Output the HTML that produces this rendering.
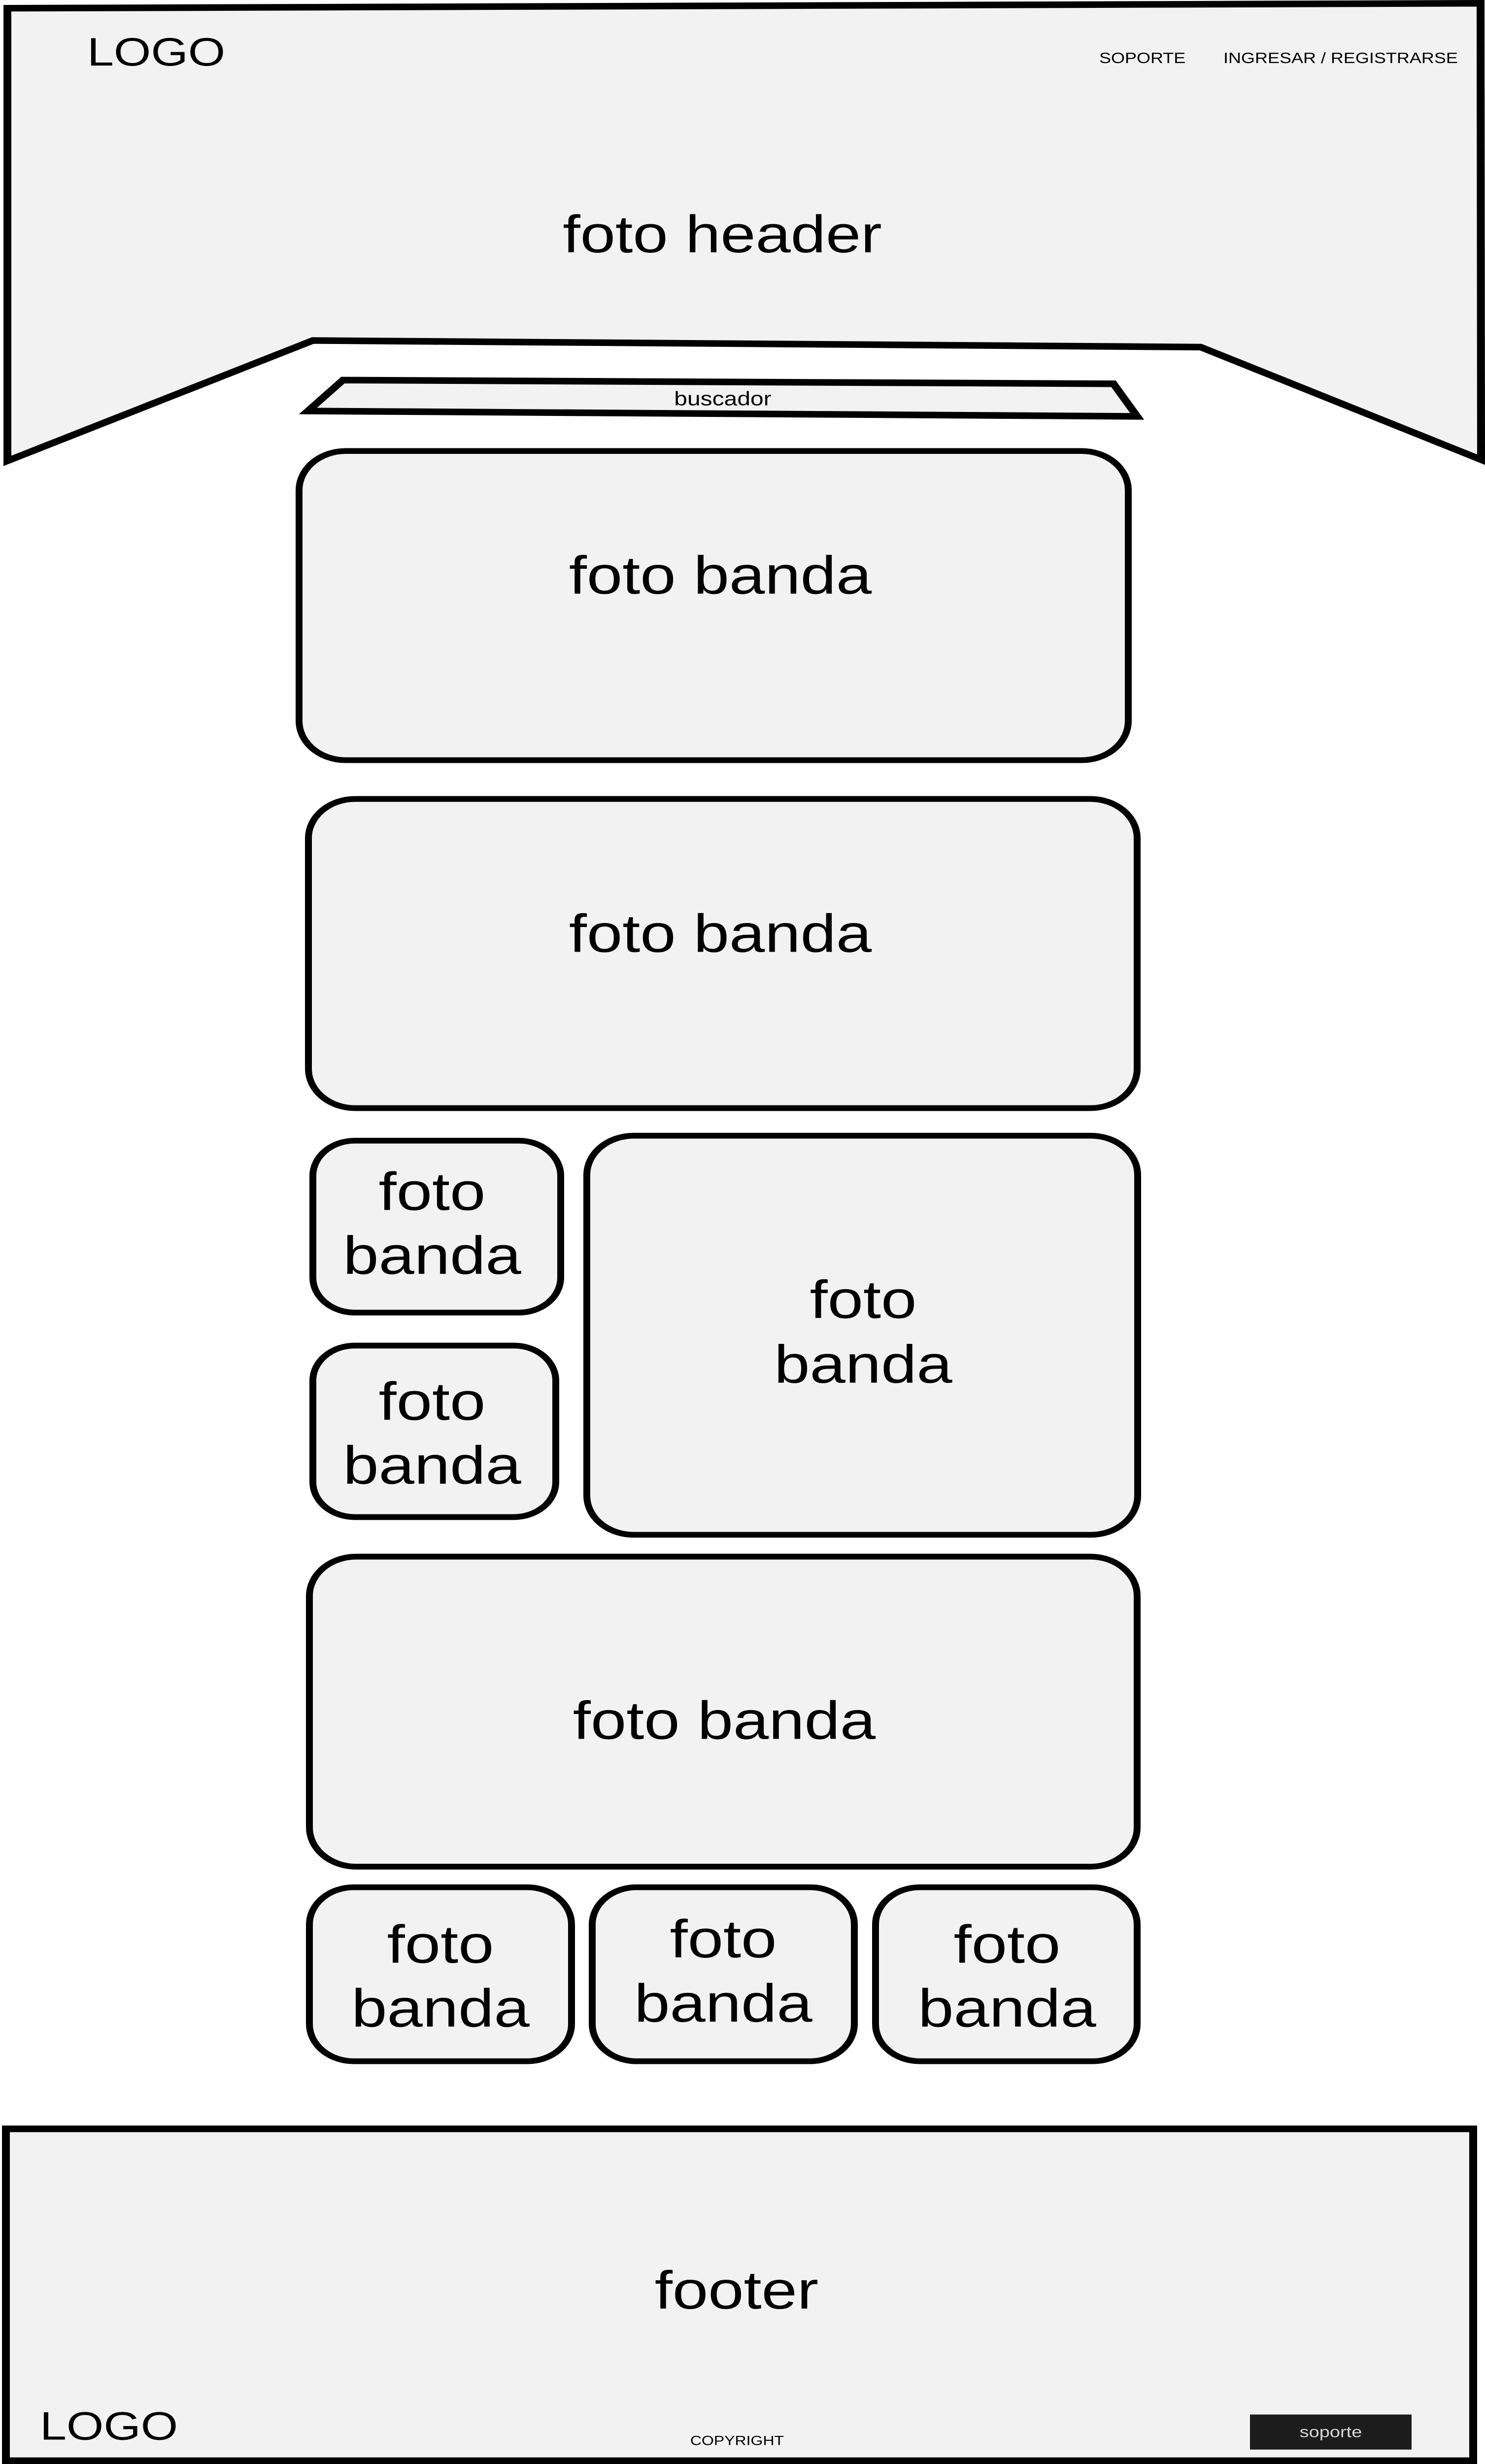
<!DOCTYPE html>
<html><head><meta charset="utf-8"><style>
html,body{margin:0;padding:0;background:#fff;width:100%;height:100%;overflow:hidden;}
svg{display:block;position:fixed;left:0;top:0;width:100vw;height:100vh;}
text{font-family:"Liberation Sans",sans-serif;fill:#000;}
</style></head><body>
<svg viewBox="0 0 3014 5977" preserveAspectRatio="none" xmlns="http://www.w3.org/2000/svg">
<rect width="3014" height="5977" fill="#fff"/>
<polygon points="15,20 3005,8 3006,1115 2437,842 635,826 15,1118" fill="#f1f2f1" stroke="#000" stroke-width="16" stroke-linejoin="miter"/>
<text x="177" y="159" font-size="97">LOGO</text>
<text x="2231" y="153" font-size="36">SOPORTE</text>
<text x="2483" y="153" font-size="36">INGRESAR / REGISTRARSE</text>
<text x="1466" y="612" font-size="128" text-anchor="middle">foto header</text>
<polygon points="696,922 2260,931 2308,1010 625,997" fill="#f1f2f1" stroke="#000" stroke-width="16"/>
<text x="1467" y="983" font-size="48" text-anchor="middle">buscador</text>
<g fill="#f1f2f1" stroke="#000" stroke-width="14">
<rect x="607" y="1094" width="1683" height="750" rx="95"/>
<rect x="626" y="1938" width="1682" height="750" rx="95"/>
<rect x="635" y="2767" width="503" height="417" rx="85"/>
<rect x="635" y="3264" width="493" height="416" rx="85"/>
<rect x="1191" y="2755" width="1118" height="968" rx="95"/>
<rect x="628" y="3776" width="1680" height="752" rx="95"/>
<rect x="628" y="4578" width="532" height="422" rx="90"/>
<rect x="1202" y="4578" width="532" height="422" rx="90"/>
<rect x="1777" y="4578" width="531" height="422" rx="90"/>
</g>
<g font-size="130" text-anchor="middle">
<text x="1462" y="1440">foto banda</text>
<text x="1462" y="2309">foto banda</text>
<text x="877" y="2935">foto</text><text x="877" y="3090">banda</text>
<text x="877" y="3444">foto</text><text x="877" y="3599">banda</text>
<text x="1752" y="3197">foto</text><text x="1752" y="3354">banda</text>
<text x="1470" y="4218">foto banda</text>
<text x="894" y="4761">foto</text><text x="894" y="4916">banda</text>
<text x="1468" y="4748">foto</text><text x="1468" y="4904">banda</text>
<text x="2044" y="4761">foto</text><text x="2044" y="4916">banda</text>
</g>
<rect x="12" y="5164" width="2978" height="805" fill="#f1f2f1" stroke="#000" stroke-width="16"/>
<text x="1495" y="5600" font-size="130" text-anchor="middle">footer</text>
<text x="81" y="5918" font-size="97">LOGO</text>
<text x="1496" y="5931" font-size="32" text-anchor="middle">COPYRIGHT</text>
<rect x="2537" y="5857" width="328" height="85" fill="#1c1c1c"/>
<text x="2701" y="5912" font-size="38" text-anchor="middle" style="fill:#d8d8d8">soporte</text>
</svg>
</body></html>
